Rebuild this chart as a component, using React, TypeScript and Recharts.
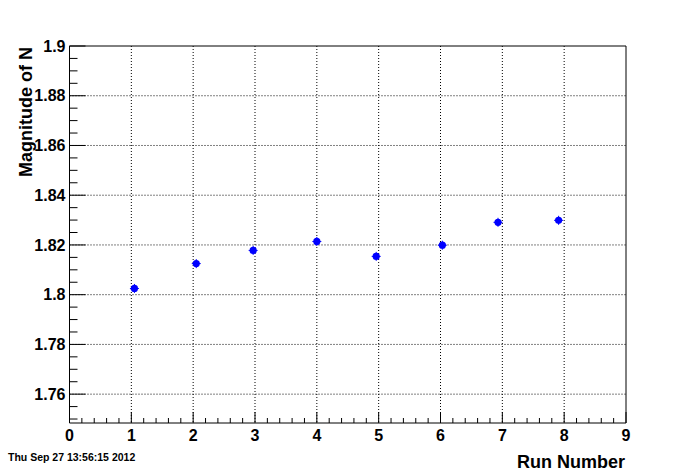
import { ScatterChart, Scatter, XAxis, YAxis, CartesianGrid, ReferenceLine } from "recharts";

const runNumbers = [1.05, 2.05, 2.97, 4.0, 4.96, 6.03, 6.93, 7.91];
const magnitudes = [1.8025, 1.8125, 1.8178, 1.8214, 1.8154, 1.8199, 1.8291, 1.8299];

const xMajorTicks = [0, 1, 2, 3, 4, 5, 6, 7, 8, 9];
const yMajorTicks = [1.76, 1.78, 1.8, 1.82, 1.84, 1.86, 1.88, 1.9];
const xGridLines = [1, 2, 3, 4, 5, 6, 7, 8];
const yGridLines = [1.76, 1.78, 1.8, 1.82, 1.84, 1.86, 1.88];

const X_MIN = 0;
const X_MAX = 9;
const Y_MIN = 1.7484;
const Y_MAX = 1.9;

// minor ticks: 5 divisions per unit on x, 4 per 0.02 on y
const xTicks: number[] = [];
for (let i = 0; i <= 45; i++) xTicks.push(+(i * 0.2).toFixed(1));
const yTicks: number[] = [];
for (let i = 0; i <= 30; i++) yTicks.push(+(1.75 + i * 0.005).toFixed(3));

const isMajor = (v: number, majors: number[]) => majors.some((m) => Math.abs(m - v) < 1e-6);

const data = runNumbers.map((x, i) => ({ x, y: magnitudes[i] }));

const font = "'Liberation Sans', Arial, sans-serif";

function YTick({ x, y, payload }: any) {
  const major = isMajor(payload.value, yMajorTicks);
  return (
    <g>
      <line x1={x} x2={x + (major ? 16 : 8)} y1={y} y2={y} stroke="#000" strokeWidth={1} />
      {major && (
        <text x={x - 4} y={y} dy="0.36em" textAnchor="end" fontSize={16} fontWeight="bold" fontFamily={font} fill="#000">
          {parseFloat(payload.value.toFixed(2)).toString()}
        </text>
      )}
    </g>
  );
}

function XTick({ x, y, payload }: any) {
  const major = isMajor(payload.value, xMajorTicks);
  return (
    <g>
      <line x1={x} x2={x} y1={y} y2={y - (major ? 11 : 5)} stroke="#000" strokeWidth={1} />
      {major && (
        <text x={x} y={y + 18} textAnchor="middle" fontSize={16} fontWeight="bold" fontFamily={font} fill="#000">
          {payload.value}
        </text>
      )}
    </g>
  );
}

function Marker({ cx, cy }: any) {
  return (
    <g>
      <line x1={cx - 4.5} x2={cx + 4.5} y1={cy} y2={cy} stroke="#0000ff" strokeWidth={1} />
      <line x1={cx} x2={cx} y1={cy - 4.5} y2={cy + 4.5} stroke="#0000ff" strokeWidth={1} />
      <circle cx={cx} cy={cy} r={3.6} fill="#0000ff" />
    </g>
  );
}

export default function App() {
  return (
    <div style={{ position: "absolute", left: 0, top: 0, width: 696, height: 472, background: "#fff" }}>
      <ScatterChart width={696} height={472} margin={{ top: 46, right: 70, left: 0, bottom: 0 }}>
        <CartesianGrid
          stroke="#000"
          strokeDasharray="1 2"
          horizontalValues={yGridLines}
          verticalValues={xGridLines}
        />
        <XAxis
          type="number"
          dataKey="x"
          domain={[X_MIN, X_MAX]}
          ticks={xTicks}
          interval={0}
          allowDataOverflow
          height={49}
          stroke="#000"
          tickLine={false}
          tickSize={0}
          tickMargin={0}
          tick={<XTick />}
        />
        <YAxis
          type="number"
          dataKey="y"
          domain={[Y_MIN, Y_MAX]}
          ticks={yTicks}
          interval={0}
          allowDataOverflow
          width={69.5}
          stroke="#000"
          tickLine={false}
          tickSize={0}
          tickMargin={0}
          tick={<YTick />}
        />
        <ReferenceLine y={Y_MAX} stroke="#000" strokeWidth={1} />
        <ReferenceLine x={X_MAX} stroke="#000" strokeWidth={1} />
        <Scatter data={data} shape={<Marker />} isAnimationActive={false} />
        <text
          x={32}
          y={47}
          transform="rotate(-90 32 47)"
          textAnchor="end"
          fontSize={18}
          fontWeight="bold"
          fontFamily={font}
          fill="#000"
        >
          Magnitude of N
        </text>
        <text x={625} y={468} textAnchor="end" fontSize={18} fontWeight="bold" fontFamily={font} fill="#000">
          Run Number
        </text>
        <text x={8} y={461} fontSize={10.5} fontWeight="bold" fontFamily={font} fill="#000">
          Thu Sep 27 13:56:15 2012
        </text>
      </ScatterChart>
    </div>
  );
}
